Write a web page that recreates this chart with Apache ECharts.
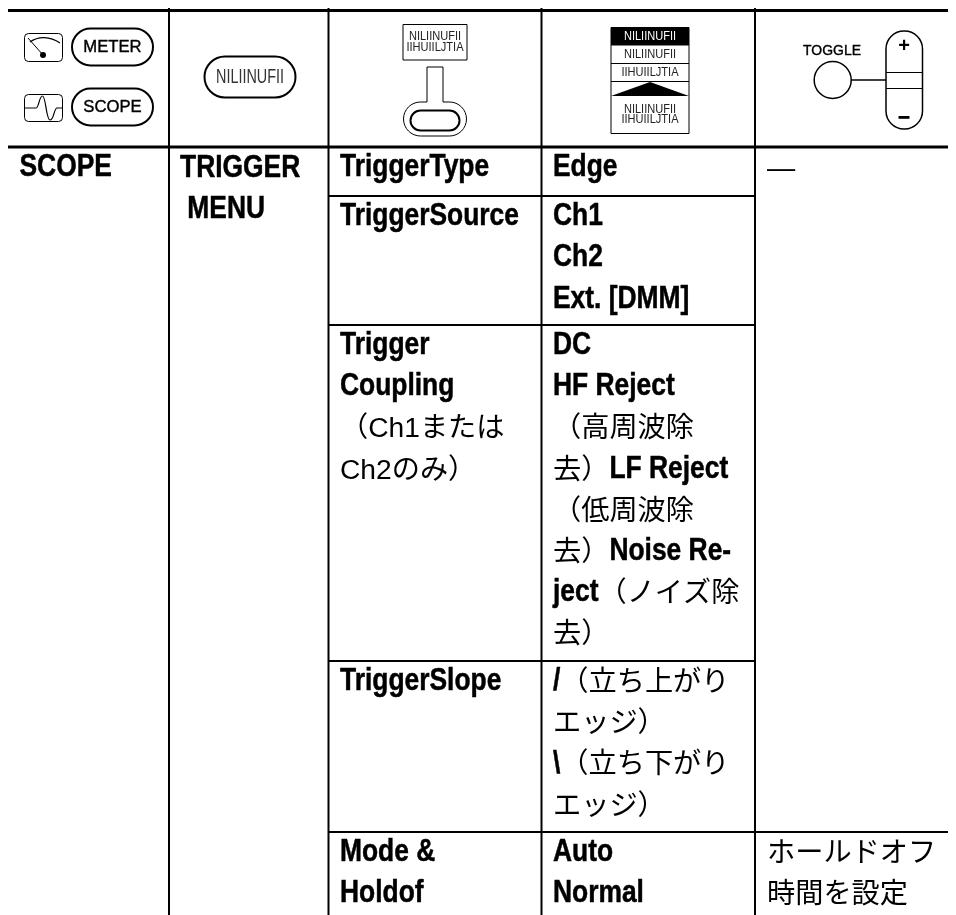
<!DOCTYPE html>
<html>
<head>
<meta charset="utf-8">
<style>html,body{margin:0;background:#fff}#chart{width:956px;height:915px}</style>
<script src="https://cdn.jsdelivr.net/npm/echarts@6/dist/echarts.min.js"></script>
</head>
<body>
<div id="chart"></div>
<script>
// table contents, {b|..} is the condensed bold face and {n|..} the plain one
const modeLines = ['{b|SCOPE}'];
const menuLines = ['{b|TRIGGER}', '{b| MENU}'];
const paramCells = [
  ['{b|TriggerType}'],
  ['{b|TriggerSource}'],
  ['{b|Trigger}', '{b|Coupling}', '{n|（Ch1または}', '{n|Ch2のみ）}'],
  ['{b|TriggerSlope}'],
  ['{b|Mode &}', '{b|Holdof}'],
];
const valueCells = [
  ['{b|Edge}'],
  ['{b|Ch1}', '{b|Ch2}', '{b|Ext. [DMM]}'],
  ['{b|DC}', '{b|HF Reject}', '{n|（高周波除}', '{n|去）}{b|LF Reject}', '{n|（低周波除}', '{n|去）}{b|Noise Re-}', '{b|ject}{n|（ノイズ除}', '{n|去）}'],
  ['{b|/}{n|（立ち上がり}', '{n|エッジ）}', '{b|\\}{n|（立ち下がり}', '{n|エッジ）}'],
  ['{b|Auto}', '{b|Normal}'],
];
const noteCells = [['{n|—}'], [], [], [], ['{n|ホールドオフ}', '{n|時間を設定}']];
const glyphTop = 'NILIINUFII';
const glyphBottom = 'IIHUIILJTIA';

// layout
const colEdges = [169, 328.5, 541.5, 755];
const rowEdges = [147, 196, 325, 661, 832];
const cellLeft = [19.5, 180, 340, 553, 767];
const linePitch = 41.15;
const firstLine = 20.4;

const rules = [
  [8, 10.5, 948, 10.5, 3],
  [8, 147, 948, 147, 3],
  [colEdges[1], rowEdges[1], colEdges[3], rowEdges[1], 2],
  [colEdges[1], rowEdges[2], colEdges[3], rowEdges[2], 2],
  [colEdges[1], rowEdges[3], colEdges[3], rowEdges[3], 2],
  [colEdges[1], rowEdges[4], 948, rowEdges[4], 2],
];
colEdges.forEach(x => rules.push([x, 8, x, 915, 2]));

const textRows = [];
const pushCell = (lines, col, top) => {
  lines.forEach((line, i) => textRows.push([cellLeft[col], top + firstLine + i * linePitch, line]));
};
pushCell(modeLines, 0, rowEdges[0]);
pushCell(menuLines, 1, rowEdges[0] + 1);
[paramCells, valueCells, noteCells].forEach((cells, c) => {
  cells.forEach((lines, r) => pushCell(lines, c + 2, rowEdges[r]));
});

const boldFont = 'bold 32px "Liberation Sans"';
const plainFont = '28.2px "Liberation Sans","Noto Sans CJK JP"';
const boldScale = 0.825;
const measure = document.createElement('canvas').getContext('2d');

// one text element per run, the bold runs are squeezed so the next run starts from the squeezed width
function lineRuns(line) {
  const children = [];
  let dx = 0;
  for (const m of line.matchAll(/\{(b|n)\|([^}]*)\}/g)) {
    const bold = m[1] === 'b';
    measure.font = bold ? boldFont : plainFont;
    children.push({
      type: 'text',
      x: dx,
      y: bold ? 0 : 2,
      scaleX: bold ? boldScale : 1,
      style: {
        text: m[2],
        font: bold ? boldFont : plainFont,
        fill: '#000',
        stroke: bold ? '#000' : null,
        lineWidth: bold ? 0.5 : 0,
        textAlign: 'left',
        textVerticalAlign: 'middle',
      },
    });
    dx += measure.measureText(m[2]).width * (bold ? boldScale : 1);
  }
  return children;
}

const stroke = { stroke: '#000', fill: 'none', lineWidth: 1.5 };
const thin = { stroke: '#000', fill: 'none', lineWidth: 1 };
const pill = (x, y, w, h, lw) => ({
  type: 'rect',
  shape: { x, y, width: w, height: h, r: h / 2 },
  style: { stroke: '#000', fill: 'none', lineWidth: lw },
});
const label = (x, y, text, font, scaleX, heavy) => ({
  type: 'text',
  x, y,
  scaleX: scaleX || 1,
  style: {
    text,
    fill: '#000',
    stroke: heavy ? '#000' : null,
    lineWidth: heavy ? 0.4 : 0,
    font: font + ' "Liberation Sans"',
    textAlign: 'center',
    textVerticalAlign: 'middle',
  },
});
const glyphs = (x, y, text, fill) => {
  const el = label(x, y, text, '12px', 0.92);
  el.style.fill = fill || '#222';
  return el;
};
const hair = (x1, y1, x2, y2, style) => ({ type: 'line', shape: { x1, y1, x2, y2 }, style: style || thin });
const curve = (x1, y1, cpx1, cpy1, cpx2, cpy2, x2, y2) => ({
  type: 'bezierCurve',
  shape: { x1, y1, cpx1, cpy1, cpx2, cpy2, x2, y2 },
  style: { stroke: '#000', fill: 'none', lineWidth: 1.2 },
});

// panel drawings of the header row
const icons = [
  // meter
  { type: 'rect', shape: { x: 24.5, y: 33.5, width: 38, height: 28, r: 4 }, style: thin },
  hair(28, 38, 43, 55),
  { type: 'circle', shape: { cx: 43, cy: 55, r: 3 }, style: { fill: '#000' } },
  curve(30, 42, 38, 36, 50, 36, 60, 43),
  pill(72, 28.5, 81, 37, 2),
  label(112.5, 47, 'METER', '17px', 0.98, true),
  // scope
  { type: 'rect', shape: { x: 24.5, y: 94.5, width: 38, height: 27, r: 4 }, style: thin },
  hair(24.5, 108, 36, 108),
  curve(36, 108, 39, 108, 39, 96, 42.5, 96),
  curve(42.5, 96, 46, 96, 46, 120, 50, 120),
  curve(50, 120, 54, 120, 54, 108, 57, 108),
  hair(57, 108, 62.5, 108),
  pill(72, 88.5, 81, 37, 2),
  label(112.5, 107, 'SCOPE', '17px', 0.98, true),
  // menu button
  pill(204.5, 56.5, 91, 41, 2),
  (() => { const el = label(250, 77, glyphTop, '20px', 0.72); el.style.fill = '#333'; return el; })(),
  // knob with display
  { type: 'rect', shape: { x: 403, y: 24.5, width: 64, height: 35.5 }, style: thin },
  glyphs(435, 37, glyphTop),
  glyphs(435, 47.5, glyphBottom),
  pill(403.5, 102, 63, 34, 1),
  { type: 'rect', shape: { x: 427, y: 98, width: 16, height: 6 }, style: { fill: '#fff' } },
  { type: 'polyline', shape: { points: [[427, 102], [427, 67], [443, 67], [443, 102]] }, style: thin },
  pill(410.5, 110.5, 49, 20, 2),
  // menu readout
  { type: 'rect', shape: { x: 611, y: 27.5, width: 78, height: 106 }, style: { stroke: '#000', fill: '#fff', lineWidth: 1 } },
  { type: 'rect', shape: { x: 611, y: 27.5, width: 78, height: 18 }, style: { fill: '#000' } },
  hair(611, 63.5, 689, 63.5),
  hair(611, 81.5, 689, 81.5),
  { type: 'polygon', shape: { points: [[611, 96], [650, 82], [689, 96]] }, style: { fill: '#000' } },
  glyphs(650, 36.5, glyphTop, '#fff'),
  glyphs(650, 54.5, glyphTop),
  glyphs(650, 72.5, glyphBottom),
  glyphs(650, 110, glyphTop),
  glyphs(650, 120, glyphBottom),
  // toggle
  label(832, 50.5, 'TOGGLE', '15px', 0.93, true),
  { type: 'circle', shape: { cx: 832.7, cy: 80, r: 18.5 }, style: stroke },
  hair(851, 80, 886, 80, stroke),
  { type: 'rect', shape: { x: 886, y: 31, width: 36.5, height: 98, r: 18 }, style: stroke },
  hair(886, 72.5, 922.5, 72.5),
  hair(886, 88.5, 922.5, 88.5),
  label(904, 46, '+', 'bold 20px'),
  { type: 'rect', shape: { x: 898.5, y: 116, width: 11, height: 2.8 }, style: { fill: '#000' } },
];

const chart = echarts.init(document.getElementById('chart'), null, { renderer: 'canvas' });

chart.setOption({
  animation: false,
  backgroundColor: '#fff',
  grid: { left: 0, right: 0, top: 0, bottom: 0 },
  xAxis: { type: 'value', min: 0, max: 956, show: false },
  yAxis: { type: 'value', min: 0, max: 915, inverse: true, show: false },
  graphic: { elements: icons },
  series: [
    {
      type: 'custom',
      silent: true,
      clip: false,
      data: rules,
      renderItem(params, api) {
        const a = api.coord([api.value(0), api.value(1)]);
        const b = api.coord([api.value(2), api.value(3)]);
        return {
          type: 'line',
          shape: { x1: a[0], y1: a[1], x2: b[0], y2: b[1] },
          style: { stroke: '#000', lineWidth: api.value(4) },
        };
      },
    },
    {
      type: 'custom',
      silent: true,
      clip: false,
      encode: { x: 0, y: 1 },
      data: textRows,
      renderItem(params, api) {
        const p = api.coord([api.value(0), api.value(1)]);
        return {
          type: 'group',
          x: p[0],
          y: p[1],
          children: lineRuns(textRows[params.dataIndex][2]),
        };
      },
    },
  ],
});

window.addEventListener('resize', () => {
  chart.resize();
});
</script>
</body>
</html>
